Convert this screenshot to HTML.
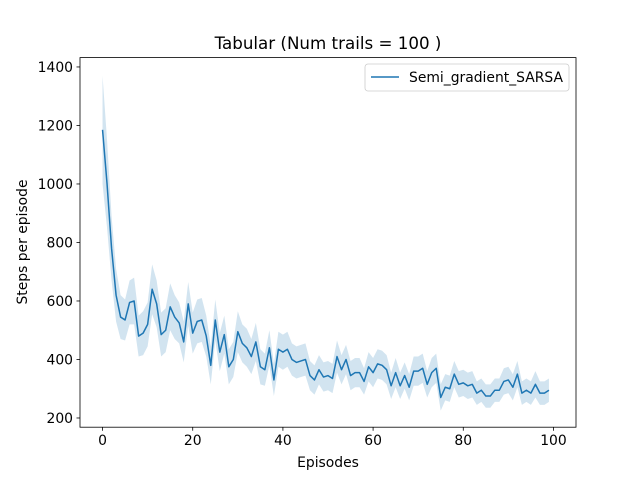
<!DOCTYPE html>
<html><head><meta charset="utf-8"><style>
body{margin:0;background:#fff}
svg text{font-family:"DejaVu Sans","Liberation Sans",sans-serif}
</style></head><body>
<svg id="chart" width="640" height="480" xmlns="http://www.w3.org/2000/svg">
<rect width="640" height="480" fill="#fff"/>
<g id="band"></g>
<g id="line"></g>
<rect x="80" y="57.6" width="496" height="369.6" fill="none" stroke="#000" stroke-width="0.8"/>
<g id="xt"></g>
<g id="yt"></g>
<text x="328" y="49" font-size="16.7" text-anchor="middle">Tabular (Num trails = 100 )</text>
<text x="328" y="467" font-size="13.9" text-anchor="middle">Episodes</text>
<text x="0" y="0" font-size="13.9" text-anchor="middle" transform="translate(27,242) rotate(-90)">Steps per episode</text>
<g>
<rect x="365" y="64" width="204" height="27" rx="3" fill="#fff" fill-opacity="0.8" stroke="#ccc" stroke-width="0.8"/>
<line x1="371" y1="77" x2="399" y2="77" stroke="#1f77b4" stroke-width="1.5"/>
<text x="409" y="82" font-size="13.9">Semi_gradient_SARSA</text>
</g>
</svg>
<script>
const values=[1185,1000,780,620,545,535,595,600,480,490,520,640,590,485,500,580,545,525,460,590,490,530,535,480,380,535,425,485,375,400,495,455,440,410,460,375,365,440,330,435,425,435,400,390,395,400,345,330,365,340,345,335,410,365,400,345,355,355,325,375,355,385,380,365,310,355,310,345,305,360,360,370,315,355,370,270,305,300,350,315,320,310,315,285,295,275,275,295,295,325,330,305,350,285,295,285,315,285,285,295];
const spread=[185,150,110,90,75,70,75,80,70,75,75,85,80,75,75,80,75,70,70,75,70,75,75,70,65,70,65,65,60,60,70,65,65,60,65,60,55,60,55,60,60,60,55,55,55,55,50,50,50,50,50,50,55,50,50,50,50,50,45,50,50,50,50,50,45,50,45,45,45,50,50,50,45,50,50,45,45,45,45,45,45,45,45,40,40,40,40,40,40,45,45,45,45,40,40,40,45,40,40,40];
const xTicks=[0,20,40,60,80,100];
const yTicks=[200,400,600,800,1000,1200,1400];
const NS="http://www.w3.org/2000/svg";
const X=v=>80+(v+5)*496/110;
const Y=v=>427.2-(v-168.5)*369.6/(1432-168.5);
function mk(t,a,p){const e=document.createElementNS(NS,t);for(const k in a)e.setAttribute(k,a[k]);p.appendChild(e);return e;}
let up=values.map((v,i)=>X(i)+','+Y(v+spread[i]));
let lo=values.map((v,i)=>X(i)+','+Y(v-spread[i])).reverse();
const b=mk('polygon',{points:up.concat(lo).join(' '),fill:'#1f77b4','fill-opacity':0.2},document.getElementById('band'));


const l=mk('polyline',{points:values.map((v,i)=>X(i)+','+Y(v)).join(' '),fill:'none',stroke:'#1f77b4','stroke-width':1.5,'stroke-linejoin':'round'},document.getElementById('line'));


const xt=document.getElementById('xt'),yt=document.getElementById('yt');
xTicks.forEach(t=>{const g=mk('g',{},xt);


mk('line',{x1:X(t),x2:X(t),y1:427.2,y2:430.7,stroke:'#000','stroke-width':0.8},g);
const tx=mk('text',{x:X(t),y:445,'font-size':13.9,'text-anchor':'middle'},g);tx.textContent=t;});
yTicks.forEach(t=>{const g=mk('g',{},yt);


mk('line',{x1:76.5,x2:80,y1:Y(t),y2:Y(t),stroke:'#000','stroke-width':0.8},g);
const tx=mk('text',{x:73,y:Y(t)+5,'font-size':13.9,'text-anchor':'end'},g);tx.textContent=t;});
</script>
</body></html>
